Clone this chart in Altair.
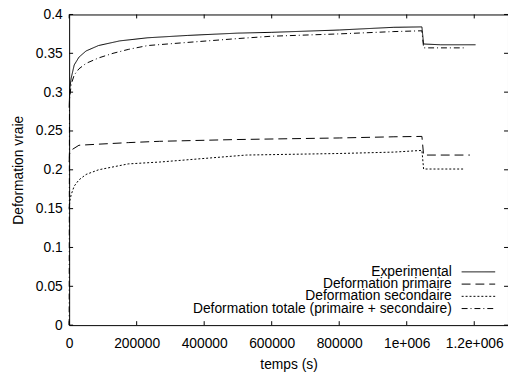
import altair as alt
import pandas as pd

# ---- data ----
series_names = [
    "Experimental",
    "Deformation primaire",
    "Deformation secondaire",
    "Deformation totale (primaire + secondaire)",
]

exp_t = [0, 2000, 6000, 15000, 29000, 50000, 87000, 150000, 233000, 350000,
         500000, 600000, 800000, 962000, 1045000, 1050000, 1100000, 1204000]
exp_v = [0.28, 0.305, 0.318, 0.335, 0.345, 0.353, 0.360, 0.366, 0.370, 0.373,
         0.376, 0.377, 0.380, 0.3835, 0.384, 0.362, 0.361, 0.361]

prim_t = [0, 1000, 6000, 29000, 87000, 175000, 268000, 500000, 800000, 962000,
          1045000, 1050000, 1187000]
prim_v = [0.21, 0.22, 0.2253, 0.2316, 0.233, 0.235, 0.2367, 0.239, 0.241, 0.2425,
          0.243, 0.219, 0.219]

sec_t = [0, 2000, 6000, 15000, 29000, 50000, 87000, 175000, 268000, 525000,
         800000, 962000, 1045000, 1050000, 1170000]
sec_v = [0.15, 0.16, 0.168, 0.179, 0.187, 0.194, 0.200, 0.2076, 0.210, 0.219,
         0.221, 0.2228, 0.225, 0.201, 0.201]

tot_t = [0, 1000, 6000, 15000, 29000, 50000, 87000, 130000, 175000, 233000,
         350000, 500000, 600000, 800000, 962000, 1045000, 1050000, 1175000]
tot_v = [0.0, 0.29, 0.31, 0.322, 0.330, 0.337, 0.344, 0.350, 0.355, 0.360,
         0.364, 0.369, 0.372, 0.375, 0.378, 0.379, 0.357, 0.357]

x_tick_values = [0, 200000, 400000, 600000, 800000, 1000000, 1200000]
x_tick_labels = ["0", "200000", "400000", "600000", "800000", "1e+006", "1.2e+006"]
y_tick_values = [0, 0.05, 0.1, 0.15, 0.2, 0.25, 0.3, 0.35, 0.4]
y_tick_labels = ["0", "0.05", "0.1", "0.15", "0.2", "0.25", "0.3", "0.35", "0.4"]

dash_styles = [[1, 0], [9, 5], [2, 2], [6, 3, 1, 3]]

# ---- tables ----
rows = []
for name, ts, vs in zip(series_names, [exp_t, prim_t, sec_t, tot_t],
                        [exp_v, prim_v, sec_v, tot_v]):
    for i, (t, v) in enumerate(zip(ts, vs)):
        rows.append({"series": name, "t": t, "v": v, "order": i})
df = pd.DataFrame(rows)

legend_df = pd.DataFrame({"series": series_names,
                          "row": list(range(len(series_names)))})
xt_df = pd.DataFrame({"t": x_tick_values})
yt_df = pd.DataFrame({"v": y_tick_values})

W, H = 445, 315


def make_expr(values, labels):
    return "".join(
        f"abs(datum.value - {v}) < 1e-9 ? '{l}' : " for v, l in zip(values, labels)
    ) + "''"


xscale = alt.Scale(domain=[0, 1300000], nice=False, zero=False)
yscale = alt.Scale(domain=[0, 0.4], nice=False)
dash_scale = alt.Scale(domain=series_names, range=dash_styles)

x_axis = alt.Axis(values=x_tick_values, labelExpr=make_expr(x_tick_values, x_tick_labels),
                  title="temps (s)", labelPadding=12, titleX=W / 2, titleY=40,
                  titleBaseline="middle", titleFontWeight="normal",
                  labelOverlap=False, labelFlush=False)
y_axis = alt.Axis(values=y_tick_values, labelExpr=make_expr(y_tick_values, y_tick_labels),
                  title="Deformation vraie", tickCount=9,
                  labelPadding=7, titleX=-51, titleY=H / 2, titleAngle=270,
                  titleAlign="center", titleBaseline="middle",
                  titleFontWeight="normal", labelOverlap=False, labelFlush=False)

lines = alt.Chart(df).mark_line(color="black", strokeWidth=1).encode(
    x=alt.X("t:Q", scale=xscale, axis=x_axis),
    y=alt.Y("v:Q", scale=yscale, axis=y_axis),
    strokeDash=alt.StrokeDash("series:N", scale=dash_scale, legend=None),
    detail="series:N",
    order="order:Q",
)

tick_len = 4
xticks_b = alt.Chart(xt_df).mark_rule(color="black").encode(
    x=alt.X("t:Q", scale=xscale, axis=x_axis), y=alt.value(H), y2=alt.value(H - tick_len))
xticks_t = alt.Chart(xt_df).mark_rule(color="black").encode(
    x=alt.X("t:Q", scale=xscale, axis=x_axis), y=alt.value(0), y2=alt.value(tick_len))
yticks_l = alt.Chart(yt_df).mark_rule(color="black").encode(
    y=alt.Y("v:Q", scale=yscale, axis=y_axis), x=alt.value(0), x2=alt.value(tick_len))
yticks_r = alt.Chart(yt_df).mark_rule(color="black").encode(
    y=alt.Y("v:Q", scale=yscale, axis=y_axis), x=alt.value(W), x2=alt.value(W - tick_len))

leg_base = alt.Chart(legend_df).transform_calculate(py="261 + datum.row * 12.4")
leg_text = leg_base.mark_text(align="right", baseline="middle", fontSize=14,
                              font="Liberation Sans", color="black").encode(
    x=alt.value(388), y=alt.Y("py:Q", scale=None), text="series:N")
leg_lines = leg_base.mark_rule(color="black", strokeWidth=1).encode(
    x=alt.value(398), x2=alt.value(432), y=alt.Y("py:Q", scale=None),
    strokeDash=alt.StrokeDash("series:N", scale=dash_scale, legend=None))

chart = alt.layer(
    lines, xticks_b, xticks_t, yticks_l, yticks_r, leg_text, leg_lines
).resolve_scale(strokeDash="shared").properties(
    width=W, height=H,
    autosize=alt.AutoSizeParams(type="none"),
    padding={"left": 62, "top": 4, "right": 0, "bottom": 48},
).configure(
    background="white"
).configure_view(
    stroke="black", strokeWidth=1
).configure_axis(
    domain=False, grid=False, ticks=False,
    labelFont="Liberation Sans", labelFontSize=14, labelColor="black",
    titleFont="Liberation Sans", titleFontSize=14, titleColor="black",
)

chart.save("out.html", embed_options={"renderer": "svg", "actions": False})
